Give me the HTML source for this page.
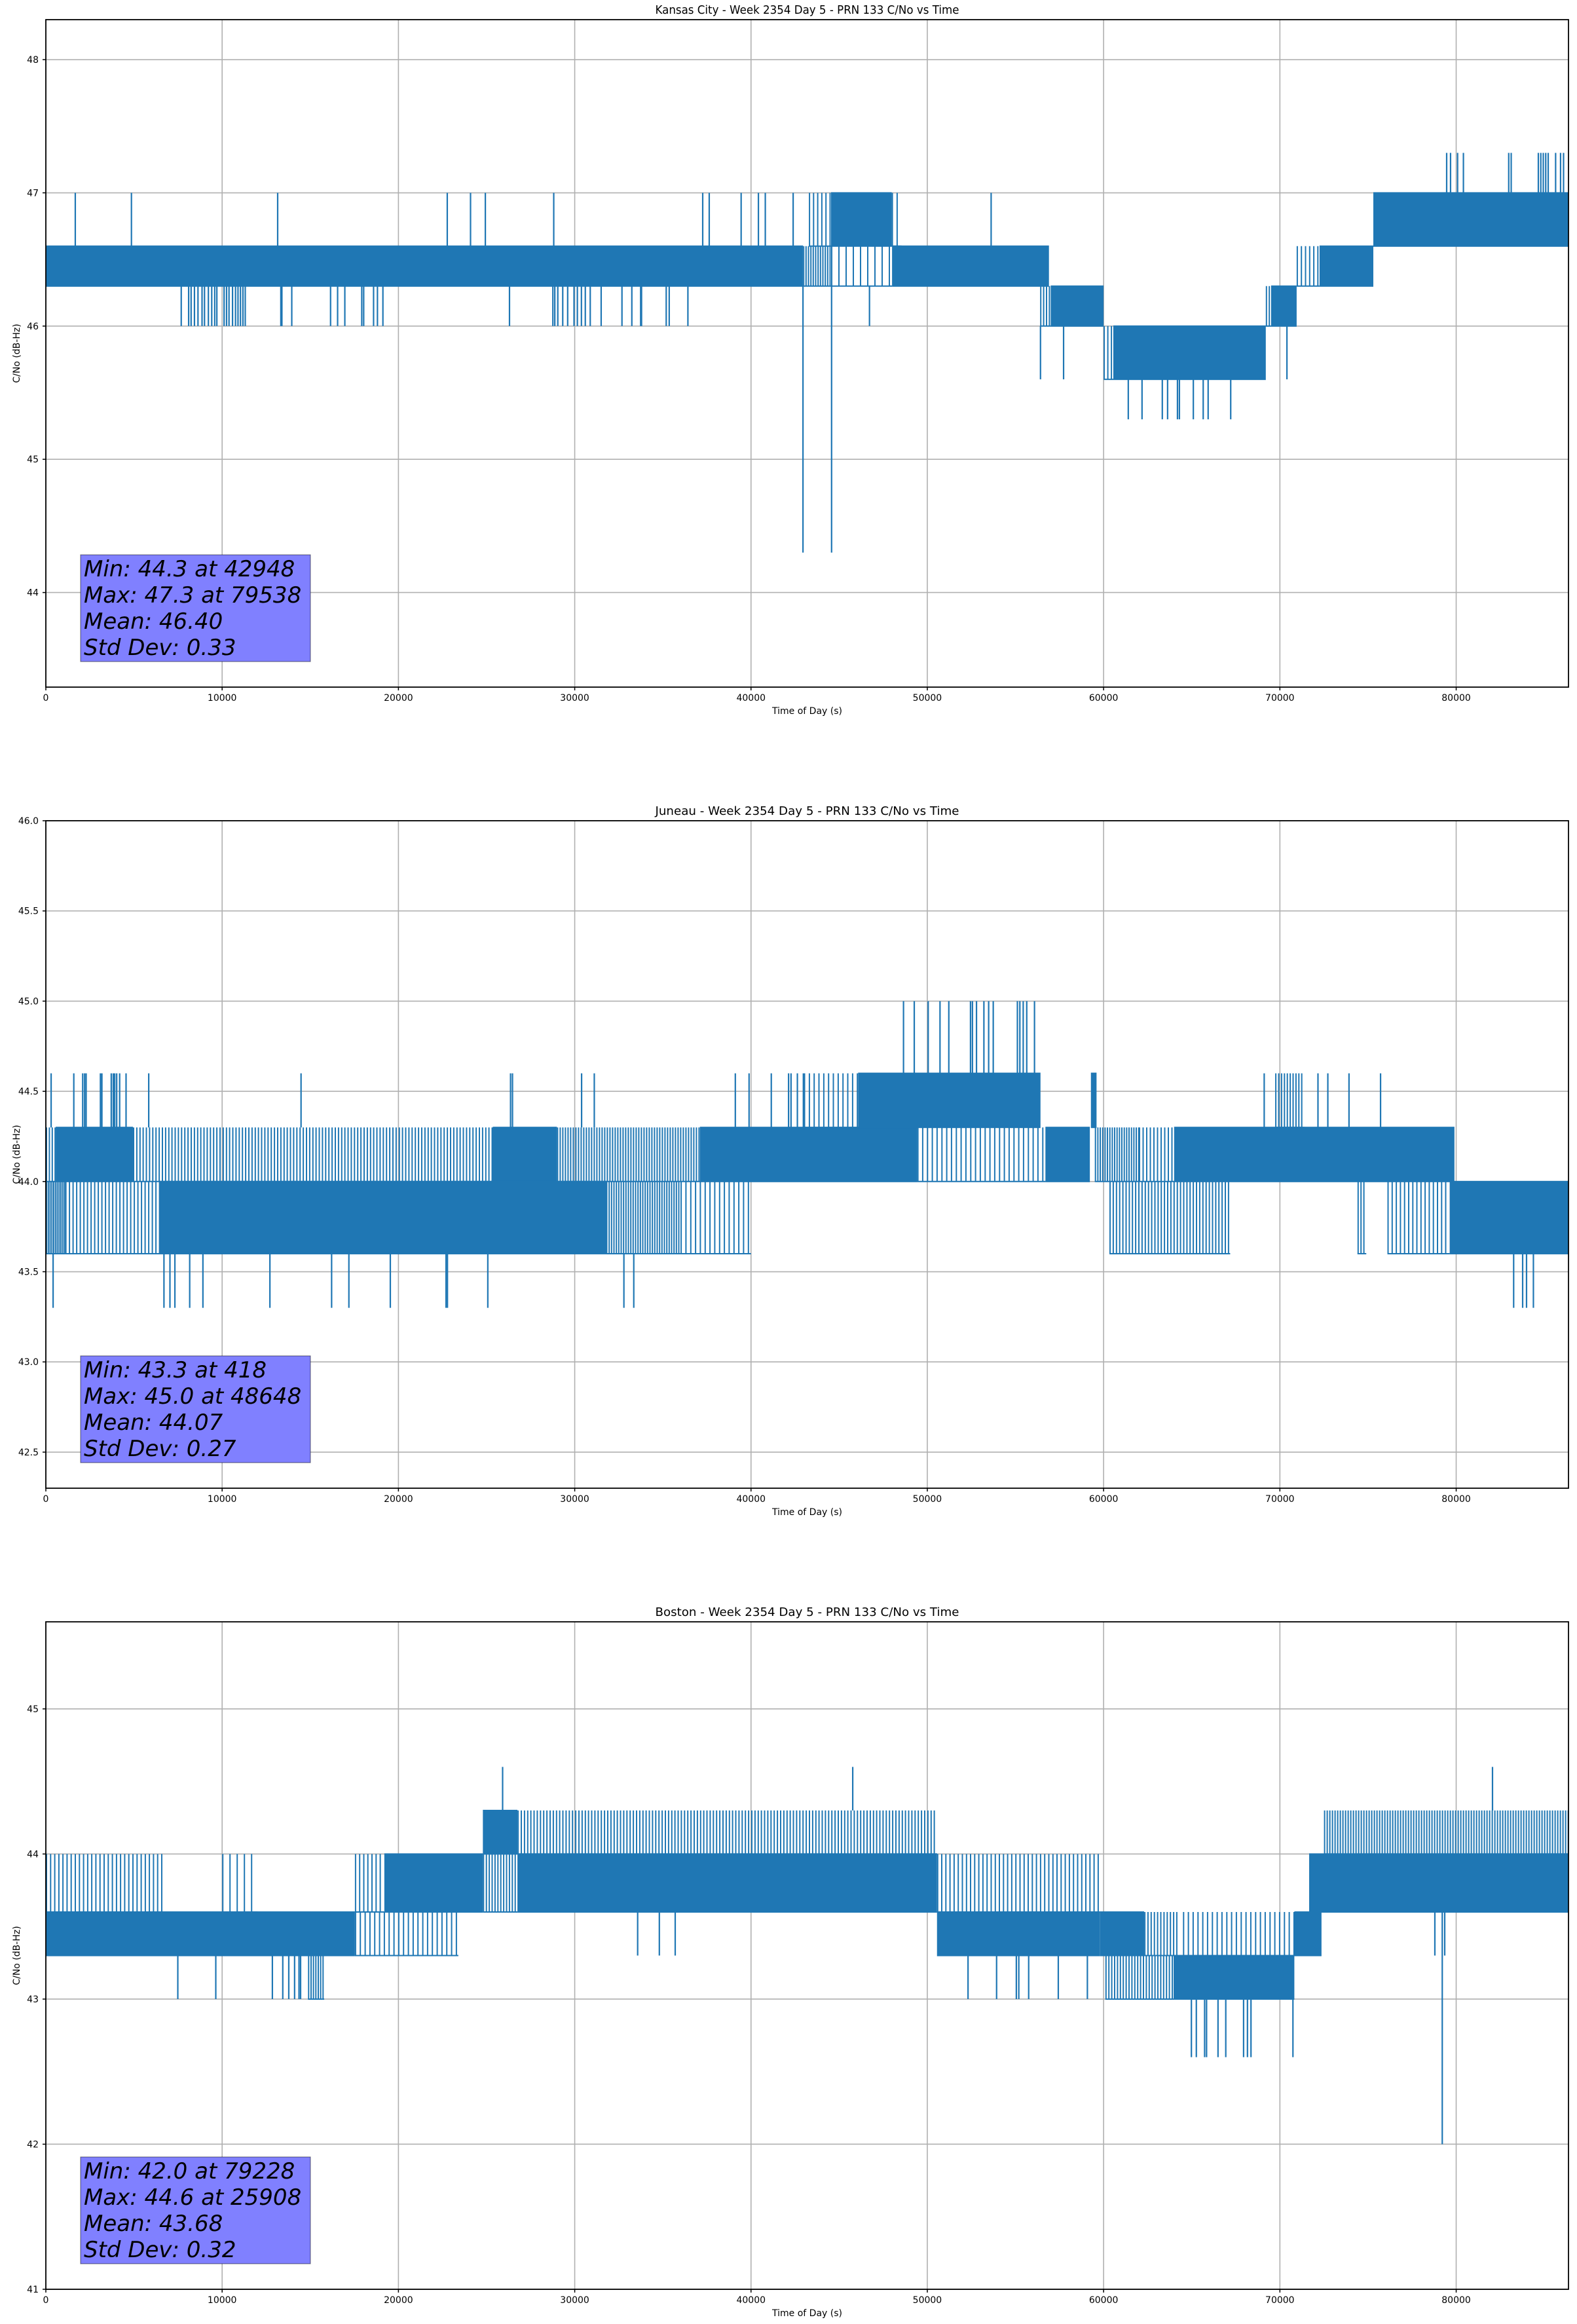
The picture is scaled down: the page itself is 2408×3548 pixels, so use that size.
<!DOCTYPE html>
<html><head><meta charset="utf-8"><style>
html,body{margin:0;padding:0;background:#fff;}
svg{display:block;font-family:"DejaVu Sans","Liberation Sans",sans-serif;}
</style></head><body>
<svg id="fig" width="2408" height="3548" viewBox="0 0 2408 3548" xmlns="http://www.w3.org/2000/svg"></svg>
<script>
// ---------- shared axis data ----------
var xTicks = [0,10000,20000,30000,40000,50000,60000,70000,80000];
var xMax = 86370;

// ---------- Kansas City ----------
var kcTitle = "Kansas City - Week 2354 Day 5 - PRN 133 C/No vs Time";
var kcYTicks = [44,45,46,47,48];
var kcYTickLabels = ["44","45","46","47","48"];
var kcStats = ["Min: 44.3 at 42948","Max: 47.3 at 79538","Mean: 46.40","Std Dev: 0.33"];
var kcBands = [
 [0,42950,46.3,46.6,0.95],[42950,44540,46.3,46.6,0.6],[43280,44540,46.6,47.0,0.35],
 [44540,47980,46.6,47.0,0.95],[47980,48540,46.6,47.0,0.3],[44540,48000,46.3,46.6,0.2],
 [48000,56900,46.3,46.6,0.95],[56400,57000,46.0,46.3,0.5],[57000,60000,46.0,46.3,0.95],
 [60000,60550,45.6,46.0,0.4],[60550,69200,45.6,46.0,0.95],[69200,69500,46.0,46.3,0.5],
 [69500,70950,46.0,46.3,0.95],[70950,72250,46.3,46.6,0.35],[72250,75300,46.3,46.6,0.95],
 [75300,86370,46.6,47.0,0.95]
];
var kcSpikes = [
 [1670,46.6,47.0],[4855,46.6,47.0],[13150,46.6,47.0],[22770,46.6,47.0],[24090,46.6,47.0],[24930,46.6,47.0],
 [28810,46.6,47.0],[37260,46.6,47.0],[37630,46.6,47.0],[39440,46.6,47.0],[40420,46.6,47.0],[40810,46.6,47.0],[42390,46.6,47.0],[53620,46.6,47.0],
 [7680,46.3,46.0],[8100,46.3,46.0],[8240,46.3,46.0],[8430,46.3,46.0],[8630,46.3,46.0],[8860,46.3,46.0],[9000,46.3,46.0],
 [9220,46.3,46.0],[9410,46.3,46.0],[9580,46.3,46.0],[9700,46.3,46.0],[10110,46.3,46.0],[10250,46.3,46.0],[10390,46.3,46.0],
 [10590,46.3,46.0],[10760,46.3,46.0],[10900,46.3,46.0],[11040,46.3,46.0],[11180,46.3,46.0],[11310,46.3,46.0],
 [13330,46.3,46.0],[13390,46.3,46.0],[13950,46.3,46.0],[16150,46.3,46.0],[16550,46.3,46.0],[16960,46.3,46.0],
 [17920,46.3,46.0],[18030,46.3,46.0],[18590,46.3,46.0],[18810,46.3,46.0],[19120,46.3,46.0],[26300,46.3,46.0],
 [28760,46.3,46.0],[28870,46.3,46.0],[29040,46.3,46.0],[29320,46.3,46.0],[29600,46.3,46.0],[29960,46.3,46.0],
 [30150,46.3,46.0],[30380,46.3,46.0],[30600,46.3,46.0],[30880,46.3,46.0],[31500,46.3,46.0],[32680,46.3,46.0],
 [33240,46.3,46.0],[33740,46.3,46.0],[33790,46.3,46.0],[35190,46.3,46.0],[35360,46.3,46.0],[36420,46.3,46.0],[46720,46.3,46.0],
 [42948,46.3,44.3],[44570,46.3,44.3],
 [56420,46.0,45.6],[57730,46.0,45.6],[70400,46.0,45.6],
 [61400,45.6,45.3],[62180,45.6,45.3],[63330,45.6,45.3],[63630,45.6,45.3],[64190,45.6,45.3],[64300,45.6,45.3],
 [65090,45.6,45.3],[65650,45.6,45.3],[65930,45.6,45.3],[67210,45.6,45.3],
 [79460,47.0,47.3],[79680,47.0,47.3],[80080,47.0,47.3],[80410,47.0,47.3],[82980,47.0,47.3],[83120,47.0,47.3],
 [84660,47.0,47.3],[84800,47.0,47.3],[84940,47.0,47.3],[85080,47.0,47.3],[85220,47.0,47.3],[85640,47.0,47.3],[85920,47.0,47.3],[86090,47.0,47.3]
];

// ---------- Juneau ----------
var junTitle = "Juneau - Week 2354 Day 5 - PRN 133 C/No vs Time";
var junYTicks = [42.5,43.0,43.5,44.0,44.5,45.0,45.5,46.0];
var junYTickLabels = ["42.5","43.0","43.5","44.0","44.5","45.0","45.5","46.0"];
var junStats = ["Min: 43.3 at 418","Max: 45.0 at 48648","Mean: 44.07","Std Dev: 0.27"];
var junBands = [
 [0,560,44.0,44.3,0.5],[560,4940,44.0,44.3,0.9],[4940,25350,44.0,44.3,0.45],[25350,28990,44.0,44.3,0.85],
 [28990,37100,44.0,44.3,0.55],[37100,49430,44.0,44.3,0.9],[49430,56700,44.0,44.3,0.3],[56700,59220,44.0,44.3,0.95],
 [59500,62000,44.0,44.3,0.6],[62000,64000,44.0,44.3,0.4],[64000,79900,44.0,44.3,0.9],
 [46075,56420,44.3,44.6,0.9],[43000,46075,44.3,44.6,0.3],[59280,59600,44.3,44.6,0.9],[69730,71380,44.3,44.6,0.5],
 [0,1100,43.6,44.0,0.8],[1100,6480,43.6,44.0,0.4],[6480,31780,43.6,44.0,0.88],[31780,36000,43.6,44.0,0.6],
 [36000,40000,43.6,44.0,0.3],[60330,67180,43.6,44.0,0.45],[74400,74900,43.6,44.0,0.5],[76100,79630,43.6,44.0,0.35],
 [79630,86370,43.6,44.0,0.92]
];
var junSpikes = [
 [300,44.3,44.6],[1586,44.3,44.6],[2090,44.3,44.6],[2200,44.3,44.6],[2285,44.3,44.6],[3096,44.3,44.6],[3180,44.3,44.6],
 [3710,44.3,44.6],[3823,44.3,44.6],[3907,44.3,44.6],[4019,44.3,44.6],[4187,44.3,44.6],[4550,44.3,44.6],[5836,44.3,44.6],
 [14476,44.3,44.6],[26360,44.3,44.6],[26470,44.3,44.6],[30390,44.3,44.6],[31110,44.3,44.6],[39110,44.3,44.6],
 [39890,44.3,44.6],[41150,44.3,44.6],[42130,44.3,44.6],[42270,44.3,44.6],[42630,44.3,44.6],[42970,44.3,44.6],
 [69110,44.3,44.6],[72160,44.3,44.6],[72720,44.3,44.6],[73920,44.3,44.6],[75710,44.3,44.6],
 [412,43.6,43.3],[6700,43.6,43.3],[7040,43.6,43.3],[7320,43.6,43.3],[8160,43.6,43.3],[8910,43.6,43.3],[12710,43.6,43.3],
 [16210,43.6,43.3],[17190,43.6,43.3],[19540,43.6,43.3],[22700,43.6,43.3],[22780,43.6,43.3],[25070,43.6,43.3],
 [32790,43.6,43.3],[33350,43.6,43.3],[83260,43.6,43.3],[83770,43.6,43.3],[83990,43.6,43.3],[84380,43.6,43.3],
 [48650,44.6,45.0],[49260,44.6,45.0],[50050,44.6,45.0],[50720,44.6,45.0],[51220,44.6,45.0],[52450,44.6,45.0],
 [52560,44.6,45.0],[52790,44.6,45.0],[53210,44.6,45.0],[53480,44.6,45.0],[53740,44.6,45.0],[55110,44.6,45.0],
 [55250,44.6,45.0],[55440,44.6,45.0],[55640,44.6,45.0],[56080,44.6,45.0]
];

// ---------- Boston ----------
var bosTitle = "Boston - Week 2354 Day 5 - PRN 133 C/No vs Time";
var bosYTicks = [41,42,43,44,45];
var bosYTickLabels = ["41","42","43","44","45"];
var bosStats = ["Min: 42.0 at 79228","Max: 44.6 at 25908","Mean: 43.68","Std Dev: 0.32"];
var bosBands = [
 [0,6620,43.6,44.0,0.35],[0,17530,43.3,43.6,0.85],[10000,12000,43.6,44.0,0.2],[17530,19200,43.6,44.0,0.35],
 [19200,24790,43.6,44.0,0.92],[17530,23400,43.3,43.6,0.3],[14870,15790,43.0,43.3,0.6],
 [24790,26750,44.0,44.3,0.9],[24790,26750,43.6,44.0,0.5],[26750,50550,43.6,44.0,0.9],[26750,50550,44.0,44.3,0.45],
 [50550,59780,43.3,43.6,0.9],[50550,59780,43.6,44.0,0.35],[59780,62300,43.3,43.6,0.85],[62300,64250,43.3,43.6,0.45],
 [60100,63970,43.0,43.3,0.5],[63970,70820,43.0,43.3,0.9],[64500,70820,43.3,43.6,0.3],[70820,72360,43.3,43.6,0.9],
 [71660,86370,43.6,44.0,0.92],[72500,86370,44.0,44.3,0.55]
];
var bosSpikes = [
 [7486,43.3,43.0],[9640,43.3,43.0],[12850,43.3,43.0],[13440,43.3,43.0],[13780,43.3,43.0],[14110,43.3,43.0],
 [14360,43.3,43.0],[14450,43.3,43.0],
 [25910,44.3,44.6],[45770,44.3,44.6],[82060,44.3,44.6],
 [52310,43.3,43.0],[53930,43.3,43.0],[55050,43.3,43.0],[55190,43.3,43.0],[55750,43.3,43.0],[57430,43.3,43.0],[59080,43.3,43.0],
 [64980,43.0,42.6],[65260,43.0,42.6],[65730,43.0,42.6],[65840,43.0,42.6],[66490,43.0,42.6],[66930,43.0,42.6],
 [67940,43.0,42.6],[68160,43.0,42.6],[68360,43.0,42.6],[70740,43.0,42.6],
 [79210,43.6,42.0],
 [33570,43.6,43.3],[34800,43.6,43.3],[35700,43.6,43.3],[78790,43.6,43.3],[79350,43.6,43.3]
];

// ---------- drawing ----------
var NS = "http://www.w3.org/2000/svg";
var svg = document.getElementById('fig');
var AX0 = 70, AX1 = 2395, AH = 1019;
var BLUE = "#1f77b4";
function mk(tag, attrs, parent){ var e=document.createElementNS(NS,tag); for(var k in attrs) e.setAttribute(k,attrs[k]); (parent||svg).appendChild(e); return e; }

function drawPlot(name, top, ymin, ymax, yTicks, yLabels, title, bands, spikes, stats){
  var bottom = top + AH;
  var g = mk('g',{});
  
  
  function xs(t){ return AX0 + (t/xMax)*(AX1-AX0); }
  function ys(v){ return bottom - (v-ymin)/(ymax-ymin)*AH; }
  var grid = mk('g',{},g);
  
  
  xTicks.forEach(function(t){ mk('line',{x1:xs(t),x2:xs(t),y1:top,y2:bottom,stroke:'#b0b0b0','stroke-width':1.6},grid); });
  yTicks.forEach(function(v){ mk('line',{x1:AX0,x2:AX1,y1:ys(v),y2:ys(v),stroke:'#b0b0b0','stroke-width':1.6},grid); });
  var series = mk('g',{},g);
  
  
  bands.forEach(function(b){
    var xa = xs(b[0]), xb = xs(b[1]), yt = ys(b[3]), yb = ys(b[2]);
    if (b[4] >= 0.85) {
      var r = mk('rect',{x:xa,y:yt-1,width:Math.max(1,xb-xa),height:yb-yt+2,fill:BLUE},series);
      
      
    } else {
      var bg = mk('g',{},series);
      
      
      var step = 2.2 / b[4];
      var d = '';
      for (var x = xa + 1; x < xb; x += step) d += 'M' + x.toFixed(1) + ' ' + yt.toFixed(1) + 'V' + yb.toFixed(1);
      mk('path',{d:d,stroke:BLUE,'stroke-width':2,fill:'none'},bg);
      mk('line',{x1:xa,x2:xb,y1:b[2]<b[3]?yb:yt,y2:b[2]<b[3]?yb:yt,stroke:BLUE,'stroke-width':2},bg);
    }
  });
  spikes.forEach(function(s){
    var l = mk('line',{x1:xs(s[0]),x2:xs(s[0]),y1:ys(s[1]),y2:ys(s[2]),stroke:BLUE,'stroke-width':2.2},series);
    
    
  });
  var frame = mk('rect',{x:AX0,y:top,width:AX1-AX0,height:AH,fill:'none',stroke:'#000','stroke-width':1.8},g);
  
  
  xTicks.forEach(function(t){
    mk('line',{x1:xs(t),x2:xs(t),y1:bottom,y2:bottom+5,stroke:'#000','stroke-width':1.5},g);
    var tx = mk('text',{x:xs(t),y:bottom+21,'font-size':14,'text-anchor':'middle',fill:'#000'},g);
    tx.textContent = String(t);
    
    
  });
  yTicks.forEach(function(v,i){
    mk('line',{x1:AX0-5,x2:AX0,y1:ys(v),y2:ys(v),stroke:'#000','stroke-width':1.5},g);
    var ty = mk('text',{x:AX0-11,y:ys(v)+5,'font-size':14,'text-anchor':'end',fill:'#000'},g);
    ty.textContent = yLabels[i];
    
    
  });
  var xl = mk('text',{x:(AX0+AX1)/2,y:bottom+41,'font-size':14,'text-anchor':'middle',fill:'#000'},g);
  xl.textContent = 'Time of Day (s)';
  
  
  var cy = top + AH/2;
  var yl = mk('text',{x:30,y:cy,'font-size':14,'text-anchor':'middle',fill:'#000',transform:'rotate(-90 30 '+cy+')'},g);
  yl.textContent = 'C/No (dB-Hz)';
  
  
  var tt = mk('text',{x:(AX0+AX1)/2,y:top-9,'font-size':18,'text-anchor':'middle',fill:'#000',textLength:464,lengthAdjust:'spacingAndGlyphs'},g);
  tt.textContent = title;
  
  
  var bt = bottom - 202;
  var sb = mk('g',{},g);
  
  
  mk('rect',{x:123,y:bt,width:351,height:163,fill:'#8080ff',stroke:'rgba(0,0,0,0.45)','stroke-width':1.2},sb);
  stats.forEach(function(s,i){
    var st = mk('text',{x:128,y:bt+33+i*40,'font-size':34,'font-style':'italic',fill:'#000'},sb);
    st.textContent = s;
    
    
  });
}

drawPlot('kansas-city', 30, 43.29, 48.30, kcYTicks, kcYTickLabels, kcTitle, kcBands, kcSpikes, kcStats);
drawPlot('juneau', 1253, 42.30, 46.0, junYTicks, junYTickLabels, junTitle, junBands, junSpikes, junStats);
drawPlot('boston', 2476, 41.0, 45.6, bosYTicks, bosYTickLabels, bosTitle, bosBands, bosSpikes, bosStats);
</script>
</body></html>
